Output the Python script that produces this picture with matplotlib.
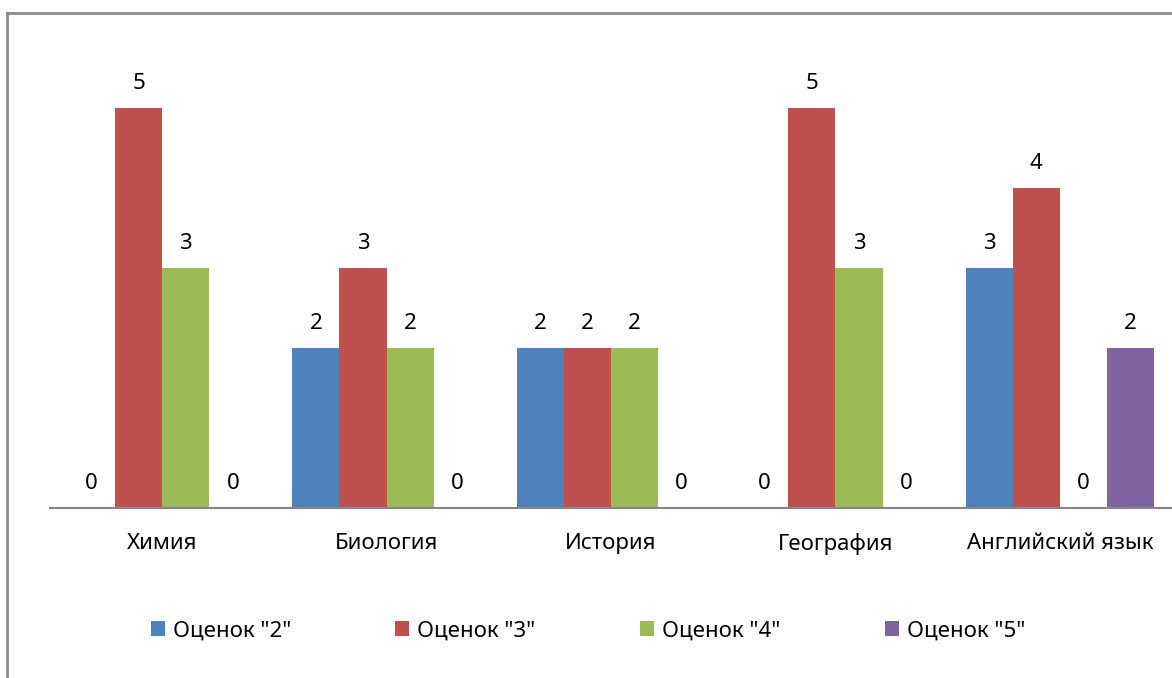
import matplotlib
matplotlib.use("Agg")
import matplotlib.pyplot as plt
from matplotlib.patches import Patch
from matplotlib.lines import Line2D
import numpy as np

categories = ["Химия", "Биология", "История", "География", "Английский язык"]
series_names = ['Оценок "2"', 'Оценок "3"', 'Оценок "4"', 'Оценок "5"']
values = [
    [0, 2, 2, 0, 3],
    [5, 3, 2, 5, 4],
    [3, 2, 2, 3, 0],
    [0, 0, 0, 0, 2],
]
colors = ["#4F81BD", "#C0504D", "#9BBB59", "#8064A2"]

plt.rcParams['font.family'] = ['Noto Sans', 'DejaVu Sans']

W, H = 1172, 678
fig = plt.figure(figsize=(W / 100, H / 100), dpi=100)
ax = fig.add_axes([50 / W, (H - 508) / H, 1 - 50 / W, 480 / H])

x = np.arange(len(categories))
bw = 0.21
FS = 16
for i, (name, vals, c) in enumerate(zip(series_names, values, colors)):
    pos = x + (i - 1.5) * bw
    ax.bar(pos, vals, width=bw, color=c, label=name, edgecolor="none")
    for p, v in zip(pos, vals):
        ax.annotate(str(v), (p, v), xytext=(0, 10), textcoords="offset points",
                    ha="center", va="bottom", fontsize=FS, color="black")

ax.set_xlim(-0.5, 4.5)
ax.set_ylim(0, 6)
ax.set_xticks(x)
ax.set_xticklabels(categories, fontsize=FS)
ax.tick_params(axis="x", length=0, pad=18)
ax.set_yticks([])
for s in ["top", "right", "left"]:
    ax.spines[s].set_visible(False)
ax.spines["bottom"].set_color("#868686")
ax.spines["bottom"].set_linewidth(1.5)

handles = [Patch(facecolor=c, edgecolor="none") for c in colors]
fig.legend(handles, series_names, loc="center", ncol=4,
           bbox_to_anchor=(588 / W, 1 - 631 / H), frameon=False, fontsize=FS,
           handlelength=0.63, handleheight=0.63, handletextpad=0.36,
           columnspacing=4.7)

# outer chart frame (partially visible)
fig.add_artist(Line2D([7 / W, 7 / W], [0, 1 - 13 / H], transform=fig.transFigure,
                      color="#8c8c8c", lw=2))
fig.add_artist(Line2D([7 / W, 1], [1 - 13 / H, 1 - 13 / H], transform=fig.transFigure,
                      color="#8c8c8c", lw=2))

fig.savefig("out.png", dpi=100)
